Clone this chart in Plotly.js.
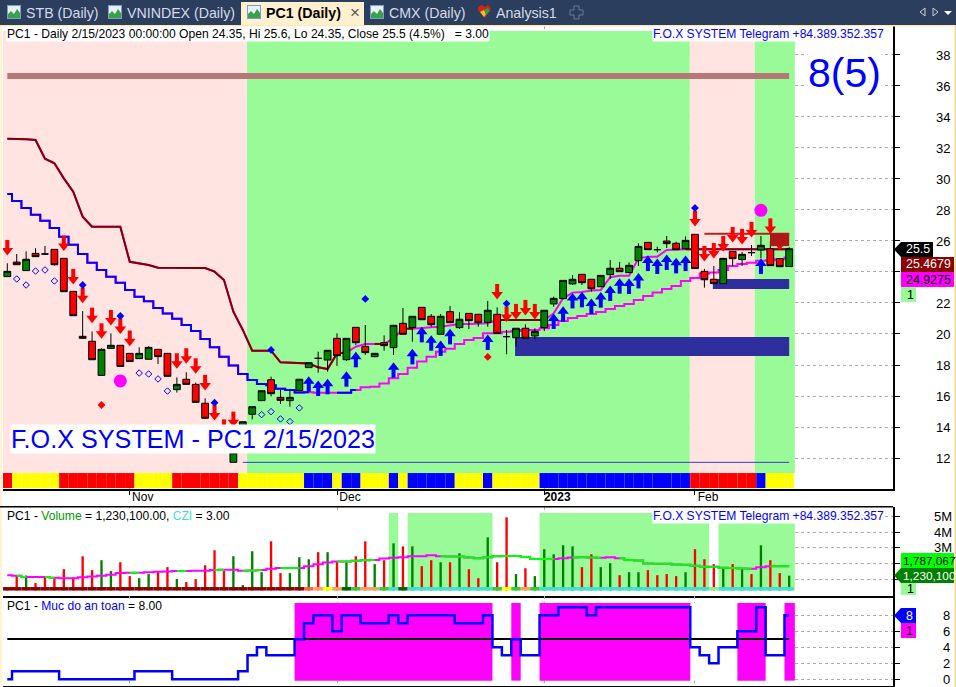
<!DOCTYPE html>
<html><head><meta charset="utf-8">
<script src="https://cdn.plot.ly/plotly-3.0.1.min.js"></script>
<style>html,body{margin:0;padding:0;background:#fff}#c{width:956px;height:687px}</style>
</head><body><div id="c"></div>
<script>
const opens=[23.70,24.64,24.09,25.20,25.16,25.46,24.88,22.75,19.85,19.53,17.33,19.07,19.27,18.75,18.41,18.37,19.01,18.75,16.41,17.08,16.75,15.53,14.0,13.5,11.72,13.4,14.82,15.70,17.05,15.91,15.70,16.34,17.83,18.43,18.32,19.72,18.34,20.43,19.2,18.54,19.44,19.12,20.69,20.41,21.72,21.14,19.98,21.44,20.41,21.33,21.27,20.75,21.27,19.83,19.76,20.37,19.87,20.41,21.94,22.28,23.23,23.85,23.53,23.05,23.83,24.24,23.96,24.73,25.91,25.44,26.0,25.85,25.5,26.43,24.04,23.53,23.25,25.33,24.8,25.25,25.42,25.5,24.86,24.35];
const highs=[24.56,25.16,25.33,25.53,25.68,25.46,24.88,22.75,21.48,20.17,19.07,20.04,19.27,18.75,19.14,19.20,19.01,18.75,17.20,17.53,16.86,15.85,14.0,13.6,13.5,14.34,15.31,16.34,17.25,16.39,16.39,17.08,18.15,18.86,18.95,20.04,19.72,20.43,20.58,18.75,19.91,20.56,21.68,21.14,21.72,21.29,21.29,21.8,21.4,21.33,21.27,22.13,21.72,20.26,20.37,20.62,20.37,21.53,22.41,23.46,23.8,23.85,23.53,23.78,24.77,24.65,24.62,25.85,25.91,25.63,26.32,25.96,26.3,26.43,24.2,24.39,24.88,25.33,25.29,25.74,26.32,26.0,24.86,25.6];
const lows=[23.70,24.47,24.09,24.99,25.10,24.41,22.73,21.18,19.72,18.34,17.33,19.07,17.91,18.22,18.41,18.37,18.06,17.27,16.22,16.75,15.59,14.56,13.0,12.7,11.72,13.4,14.49,15.70,15.98,15.48,15.31,16.34,17.83,17.5,17.57,17.94,18.25,19.29,18.65,18.5,18.92,18.65,19.98,19.5,20.92,20.47,19.98,20.73,20.32,20.32,20.47,20.47,20.04,18.69,19.18,19.72,19.66,20.19,21.76,22.28,23.16,23.16,22.73,23.05,23.55,24.02,23.96,24.39,25.44,25.27,25.55,25.44,25.5,24.22,22.99,23.25,23.25,24.39,24.39,25.03,24.88,24.41,24.34,24.35];
const closes=[24.04,24.47,24.82,24.99,25.16,24.47,22.73,21.18,19.72,18.34,19.01,19.27,17.91,18.22,18.75,19.14,18.54,17.27,16.75,16.75,15.59,14.56,13.0,12.7,12.34,14.34,15.31,16.34,16.15,15.72,15.91,17.08,18.15,18.43,18.95,18.6,19.72,19.44,18.8,18.75,19.25,20.56,19.98,21.14,20.92,20.6,21.14,20.73,20.95,20.86,20.73,21.53,20.04,19.83,20.37,19.72,20.17,21.53,22.3,23.46,23.53,23.31,22.92,23.78,24.24,24.02,24.43,25.65,25.44,25.44,25.83,25.44,26.04,24.22,23.5,23.25,24.88,24.86,25.14,25.25,25.72,24.41,24.34,25.5];
const upperLine=[32.6,32.6,32.56,32.52,31.31,31.01,30.04,29.18,27.57,26.92,26.92,26.92,26.92,24.66,24.56,24.45,24.28,24.28,24.28,24.28,24.28,24.26,24.02,23.48,21.44,20.26,18.92,18.92,18.92,18.17,18.15,18.15,18.1,17.85,17.74,18.75,18.8,19.18,19.36,19.36,19.36,19.72,20.34,20.34,20.4,20.43,20.47,20.58,20.65,20.65,20.65,20.69,20.9,20.9,20.9,20.9,20.9,20.9,21.33,22.3,22.67,22.71,22.8,22.84,23.66,23.76,23.76,24.88,24.99,24.99,25.42,25.46,25.47,25.47,25.47,25.47,25.47,25.47,25.47,25.47,25.47,25.47,25.47,25.47];
const upperMaroonRanges=[[0,34],[35,36],[39,40],[42,43],[52,57],[72,83]];
const lowerLine=[29.03,28.58,28.13,27.7,27.31,26.84,26.28,25.76,25.16,24.6,24.13,23.7,23.31,22.84,22.41,22.11,21.68,21.33,20.99,20.58,20.19,19.68,19.14,18.54,17.96,17.42,17.03,16.77,16.69,16.47,16.39,16.22,16.24,16.21,16.21,16.21,16.21,16.38,16.56,16.6,16.8,17.14,17.42,17.83,18.22,18.54,18.86,19.05,19.36,19.61,19.74,20.04,20.04,20.15,20.2,20.26,20.26,20.37,20.58,20.84,21.03,21.16,21.29,21.42,21.61,21.8,21.93,22.19,22.45,22.67,22.9,23.1,23.42,23.61,23.9,23.96,24.13,24.39,24.52,24.6,24.73,24.75,24.82,24.93];
const lowerBlueRanges=[[0,32],[35,37]];
const sellBars=[0,6,7,8,9,10,11,12,13,18,19,20,21,22,23,24,52,53,54,55,56,73,74,75,76,77,78,79,81,82];
const sellPrices=[25.39,25.67,23.52,22.31,21.02,20.01,20.87,20.33,19.54,18.08,18.4,17.75,16.68,14.74,13.81,14.31,22.55,21.09,21.26,21.52,21.26,27.26,25.0,25.19,25.64,26.22,26.1,26.55,26.78,25.72];
const buyBars=[32,33,34,36,37,41,43,44,45,46,47,51,58,59,60,61,62,63,64,65,66,67,68,69,70,71,72,80];
const buyPrices=[16.95,16.68,16.79,17.28,18.53,17.86,18.72,20.14,19.6,19.26,20.01,19.65,21.0,21.47,22.33,22.4,21.97,22.38,22.81,23.28,23.26,23.62,24.74,24.55,24.81,24.59,24.74,24.55];
const blueDotBars=[8,12,22,28,38,53,73];
const blueDotPrices=[23.16,21.16,15.57,18.97,22.26,21.96,28.13];
const redDotBars=[10,24,51];
const redDotPrices=[15.42,9.81,18.52];
const hollowBars=[1,2,3,4,5,14,15,16,17,27,28,29,30,31];
const hollowPrices=[23.55,23.16,24.06,24.13,23.42,17.48,17.42,17.1,16.32,14.8,14.99,14.52,14.35,15.23];
const pinkBars=[12,80];
const pinkPrices=[16.97,27.98];
const stateRuns=[['#ff0000',1],['#ffff00',5],['#ff0000',8],['#ffff00',4],['#ff0000',7],['#ffff00',7],['#0000ff',3],['#ffff00',1],['#0000ff',2],['#ffff00',3],['#0000ff',1],['#ffff00',1],['#0000ff',5],['#ffff00',3],['#0000ff',1],['#ffff00',5],['#0000ff',16],['#ff0000',7],['#0000ff',1],['#ffff00',3]];
const volumes=[0.36,1.24,1.24,0.76,1.2,1.12,1.64,1.12,2.46,1.58,2.21,1.52,2.08,1.2,1.07,1.33,1.52,1.77,1.01,0.82,1.01,1.89,2.84,1.52,2.46,0.63,2.78,1.45,3.41,1.39,1.39,2.4,2.27,2.72,2.72,2.15,2.08,2.46,3.41,1.96,2.21,3.28,3.09,3.09,1.83,2.21,2.08,2.08,2.65,1.64,1.07,3.66,2.08,4.93,1.33,1.7,1.2,2.91,2.59,3.16,3.09,1.77,2.59,1.77,2.02,1.26,1.45,1.45,1.58,1.26,1.33,1.2,1.45,2.91,2.27,1.96,1.7,1.96,1.7,1.33,3.16,2.21,1.39,1.23];
const volumeUp=[1,0,1,0,0,0,0,0,0,0,1,1,0,0,1,1,0,0,1,0,0,0,0,0,1,1,1,1,0,0,1,1,1,0,1,0,1,0,0,1,0,1,0,1,0,0,1,0,1,0,0,1,0,0,1,0,1,1,1,1,1,0,0,1,1,0,1,1,0,0,0,0,1,0,0,0,1,0,1,0,1,0,0,1];
const volumeAvg=[1.26,1.22,1.14,1.14,1.14,1.09,1.07,1.07,1.12,1.18,1.22,1.28,1.39,1.41,1.41,1.45,1.47,1.49,1.52,1.52,1.54,1.54,1.58,1.6,1.6,1.54,1.56,1.58,1.66,1.71,1.71,1.71,1.83,1.96,2.06,2.13,2.13,2.17,2.21,2.23,2.32,2.36,2.4,2.46,2.46,2.53,2.46,2.44,2.44,2.38,2.34,2.4,2.46,2.48,2.48,2.42,2.29,2.29,2.29,2.34,2.38,2.4,2.38,2.36,2.4,2.34,2.23,2.19,2.0,1.98,1.98,1.94,1.92,1.85,1.79,1.79,1.73,1.71,1.68,1.66,1.77,1.83,1.83,1.83];
const volumeAvgGreenRanges=[[1,2],[4,5],[13,14],[18,19],[22,23],[25,27],[29,31],[35,36],[36,37],[38,39],[46,52],[53,57],[57,58],[60,61],[62,63],[65,70],[71,72],[73,79],[81,83]];
const czlRuns=[['#8b0000',32],['#ff6347',1],['#f4a460',1],['#ffff00',1],['#f4a460',1],['#006400',1],['#32cd32',1],['#f4a460',2],['#32cd32',1],['#40e0d0',1],['#006400',1],['#40e0d0',9],['#32cd32',1],['#ffff00',1],['#32cd32',1],['#f4a460',1],['#32cd32',1],['#40e0d0',18],['#90ee90',1],['#40e0d0',8]];
const safety=[0,1,1,1,1,1,0,0,0,0,0,0,0,0,1,1,1,1,0,0,0,0,0,0,0,1,3,4,3,3,3,5,7,8,8,6,8,8,7,7,7,8,7,8,8,8,8,8,7,7,7,8,4,3,5,3,3,8,8,9,9,9,8,9,9,9,9,9,9,9,9,9,9,4,3,2,4,4,6,6,9,3,3,8];
const safetyLevel=5.04;
const volumeZones=[[40.5,41.5],[42.5,51.5],[56.5,74.5],[75.5,83.6]];
const safetyZones=[[30.5,51.5],[53.5,54.5],[56.5,72.5],[77.5,80.5],[82.5,83.6]];
const regimeZones=[[-0.456,25.45,'#ffe4e1'],[25.45,72.45,'#98fb98'],[72.45,79.35,'#ffe4e1'],[79.35,83.6,'#98fb98']];
const resistanceLevel=36.65, floorLevel=11.72, redLevel=26.47;
const xTickBars=[13,35,57,73];
const xTickText=['Nov','Dec','<b>2023</b>','Feb'];
const bars=closes.map((_,i)=>i);

const F='"Liberation Sans", Arial, sans-serif';
const W=956,H=687;
const px=x=>x/W, py=y=>1-y/H;
const expand=r=>r.flatMap(([c,n])=>Array(n).fill(c));
const pick=(v,rs)=>v.map((y,i)=>rs.some(([a,b])=>i>=a&&i<=b)?y:null);

const traces=[
 {type:'bar',x:bars,y:bars.map(()=>0.97),base:bars.map(()=>10.06),width:1,marker:{color:expand(stateRuns),line:{width:0}},xaxis:'x',yaxis:'y'},
 {type:'scatter',mode:'lines',x:[0,83],y:[resistanceLevel,resistanceLevel],line:{color:'#b57878',width:6},xaxis:'x',yaxis:'y'},
 {type:'scatter',mode:'lines',x:[25,83],y:[floorLevel,floorLevel],line:{color:'#3a3ac8',width:1},xaxis:'x',yaxis:'y'},
 {type:'scatter',mode:'lines',x:[74,83],y:[redLevel,redLevel],line:{color:'#b22222',width:2},xaxis:'x',yaxis:'y'},
 {type:'scatter',mode:'lines',x:bars,y:upperLine,line:{color:'#ff00ff',width:2},xaxis:'x',yaxis:'y'},
 {type:'scatter',mode:'lines',x:bars,y:pick(upperLine,upperMaroonRanges),line:{color:'#800000',width:2},xaxis:'x',yaxis:'y'},
 {type:'scatter',mode:'lines',x:bars,y:lowerLine,line:{color:'#ff00ff',width:2,shape:'hvh'},xaxis:'x',yaxis:'y'},
 {type:'scatter',mode:'lines',x:bars,y:pick(lowerLine,lowerBlueRanges),line:{color:'#0000ff',width:2,shape:'hvh'},xaxis:'x',yaxis:'y'},
 {type:'candlestick',x:bars,open:opens,high:highs,low:lows,close:closes,whiskerwidth:0,
  increasing:{fillcolor:'#008000',line:{color:'#000',width:1}},decreasing:{fillcolor:'#ff0000',line:{color:'#000',width:1}},xaxis:'x',yaxis:'y4'},
 {type:'scatter',mode:'markers',x:buyBars,y:buyPrices,marker:{symbol:'triangle-up',size:10,color:'#0000ff'},
  error_y:{type:'constant',symmetric:false,value:0,valueminus:0.68,thickness:4,width:0,color:'#0000ff'},xaxis:'x',yaxis:'y4'},
 {type:'scatter',mode:'markers',x:sellBars,y:sellPrices,marker:{symbol:'triangle-down',size:10,color:'#ff0000'},
  error_y:{type:'constant',symmetric:false,value:0.68,valueminus:0,thickness:4,width:0,color:'#ff0000'},xaxis:'x',yaxis:'y4'},
 {type:'scatter',mode:'markers',x:hollowBars,y:hollowPrices,marker:{symbol:'diamond-open',size:5,color:'#0000ff',line:{width:1,color:'#0000ff'}},xaxis:'x',yaxis:'y4'},
 {type:'scatter',mode:'markers',x:blueDotBars,y:blueDotPrices,marker:{symbol:'diamond',size:6,color:'#0000ff'},xaxis:'x',yaxis:'y4'},
 {type:'scatter',mode:'markers',x:redDotBars,y:redDotPrices,cliponaxis:false,marker:{symbol:'diamond',size:6,color:'#ff0000'},xaxis:'x',yaxis:'y4'},
 {type:'scatter',mode:'markers',x:pinkBars,y:pinkPrices,marker:{symbol:'circle',size:13,color:'#ff00ff'},xaxis:'x',yaxis:'y4'},
 {type:'bar',x:bars,y:volumes,width:0.25,marker:{color:volumeUp.map(u=>u?'#008000':'#ff0000'),line:{width:0}},xaxis:'x2',yaxis:'y2'},
 {type:'bar',x:bars,y:bars.map(()=>0.235),base:bars.map(()=>0.27),width:1,marker:{color:expand(czlRuns),line:{width:0}},xaxis:'x2',yaxis:'y2'},
 {type:'scatter',mode:'lines',x:bars,y:volumeAvg,line:{color:'#ff00ff',width:2,shape:'hvh'},xaxis:'x2',yaxis:'y2'},
 {type:'scatter',mode:'lines',x:bars,y:pick(volumeAvg,volumeAvgGreenRanges),line:{color:'#00ff00',width:2,shape:'hvh'},xaxis:'x2',yaxis:'y2'},
 {type:'scatter',mode:'lines',x:[0,83],y:[safetyLevel,safetyLevel],line:{color:'#000',width:2},xaxis:'x3',yaxis:'y3'},
 {type:'scatter',mode:'lines',x:bars,y:safety,line:{color:'#0000ff',width:2.5,shape:'hvh'},xaxis:'x3',yaxis:'y3'}
];

const shapes=[];
const rect=(x0,x1,y0,y1,fill,xref,yref,layer)=>shapes.push({type:'rect',xref,yref,x0,x1,y0,y1,fillcolor:fill,line:{width:0},layer:layer||'between'});
const prect=(x0,y0,x1,y1,fill)=>rect(px(x0),px(x1),py(y0),py(y1),fill,'paper','paper','above');
const ppath=(pts,fill,stroke)=>shapes.push({type:'path',xref:'paper',yref:'paper',layer:'above',fillcolor:fill,line:{width:stroke?1:0,color:stroke||'#000'},
  path:'M'+pts.map(p=>px(p[0])+' '+py(p[1])).join(' L')+' Z'});
regimeZones.forEach(z=>rect(z[0],z[1],11.03,39.55,z[2],'x','y'));
rect(53.9,83,18.58,19.81,'#2e2e9e','x','y');
rect(74.9,83,22.9,23.55,'#2e2e9e','x','y');
rect(80.96,83,25.67,26.5,'#b01818','x','y','above');
rect(-0.456,83.6,0.27,5.2,'#ffffff','x2','y2');
volumeZones.forEach(z=>rect(z[0],z[1],0.27,5.2,'#98fb98','x2','y2'));
rect(-0.456,83.6,0,0.27,'#ffffff','x2','y2','above');
rect(-0.456,83.6,-0.17,9.54,'#ffffff','x3','y3');
safetyZones.forEach(z=>rect(z[0],z[1],-0.17,9.54,'#ff00ff','x3','y3'));

/* window chrome */
prect(0,0,956,25,'#2c3e5e');
prect(0,25,956,26.5,'#ffe9b0');
prect(0,26,2,687,'#fff3d0');
prect(954.5,26,956,687,'#f5d98a');
prect(241,2,364,25,'#fff0cf');
prect(0,506,893,507.5,'#000');
const icon=x=>{prect(x,5,x+14,19,'#7d9ecb');prect(x+1,6,x+13,18,'#e8f1fb');
  ppath([[x+1,18],[x+1,14],[x+4,11],[x+7,14],[x+10,9],[x+13,13],[x+13,18]],'#3aa04a');};
[7,108,247,370].forEach(icon);
ppath([[478,7],[482,5],[485,7],[488,5],[491,8],[485,18],[478,10]],'#d62020');
ppath([[480,12],[484,10],[487,13],[484,17]],'#f0c020');
ppath([[484,10],[488,8],[490,11],[486,15]],'#35a035');
ppath([[570,10],[574,10],[574,6],[579,6],[579,10],[583,10],[583,15],[579,15],[579,19],[574,19],[574,15],[570,15]],'rgba(0,0,0,0)','#6d7a90');
ppath([[925,8],[925,16],[920,12]],'rgba(0,0,0,0)','#c8d0dc');
ppath([[933,8],[933,16],[938,12]],'rgba(0,0,0,0)','#c8d0dc');
ppath([[944,11],[952,11],[948,15]],'#ffffff');
/* value tags */
prect(901,242,933,257,'#000');ppath([[894,249.5],[901,242],[901,257]],'#000');
prect(901,257,954,272,'#8b0000');
prect(901,272,954,287,'#ff00ff');
prect(901,287,916,302,'#98fb98');
prect(901,553,954,568,'#00ff00');
prect(901,568,954,583,'#008000');ppath([[894,575.5],[901,568],[901,583]],'#008000');
prect(901,583,916,595,'#98fb98');
prect(901,608,916,623,'#0000ff');ppath([[894,615.5],[901,608],[901,623]],'#0000ff');
prect(901,623,916,638,'#ff00ff');

const ann=[];
const T=(text,x,y,o={})=>ann.push({text,xref:'paper',yref:'paper',x:px(x),y:py(y),xanchor:o.anchor||'left',yanchor:'middle',showarrow:false,
  font:{family:F,size:o.size||12,color:o.color||'#000'},bgcolor:o.bg,borderpad:0});
const tabC='#d5dbe6';
T('STB (Daily)',25,13,{size:14.2,color:tabC});
T('VNINDEX (Daily)',126,13,{size:14.2,color:tabC});
T('<b>PC1 (Daily)</b>',265,13,{size:14.2,color:'#000'});
T('×',349,12,{size:17,color:'#5a5a5a'});
T('CMX (Daily)',388,13,{size:14.2,color:tabC});
T('Analysis1',495,13,{size:14.2,color:tabC});
T('PC1 - Daily 2/15/2023 00:00:00 Open 24.35, Hi 25.6, Lo 24.35, Close 25.5 (4.5%)\u00a0\u00a0\u00a0= 3.00',6,34.5,{bg:'#fff',size:12.1});
T('F.O.X SYSTEM Telegram +84.389.352.357',652,34.5,{bg:'#fff',color:'#0000ff',size:12.1});
T('8(5)',807,73,{bg:'#fff',color:'#0000ff',size:41});
T('F.O.X SYSTEM - PC1 2/15/2023',10,439,{bg:'#fff',color:'#0000ff',size:25.2});
T('PC1 - <span style="color:#009a00">Volume</span> = 1,230,100.00, <span style="color:#40e0d0">CZI</span> = 3.00',6,516,{bg:'#fff',size:12.1});
T('F.O.X SYSTEM Telegram +84.389.352.357',652,516,{bg:'#fff',color:'#0000ff',size:12.1});
T('PC1 - <span style="color:#0000ff">Muc do an toan</span> = 8.00',6,606,{bg:'#fff',size:12.1});
T('25.5',905,249.5,{color:'#fff',size:12.4});
T('25.4679',905,264.5,{color:'#fff',size:12.4});
T('24.9275',905,279.5,{size:12.4});
T('1',906,294.5,{size:12.4});
T('1,787,067',902,560.5,{size:11.8});
T('1,230,100',902,575.5,{color:'#fff',size:11.8});
T('1',906,589,{size:12.4});
T('8',905,615.5,{color:'#fff',size:12.4});
T('1',905,630.5,{size:12.4});

const xbase={range:[-0.456,94.02],fixedrange:true,showline:true,linecolor:'#000',linewidth:1.5,zeroline:false,domain:[px(3),px(893)],
  tickmode:'array',tickvals:xTickBars,showgrid:true,griddash:'dot',gridcolor:'#aaaaaa',gridwidth:1};
const ybase={side:'right',fixedrange:true,showline:true,linecolor:'#000',linewidth:1.5,zeroline:false,ticks:'outside',ticklen:5,tickcolor:'#000',
  griddash:'dot',gridcolor:'#aaaaaa',gridwidth:1,showgrid:true,tickfont:{family:F,size:13,color:'#000'},tickmode:'array'};
const priceTicks=[12,14,16,18,20,22,24,26,28,30,32,34,36,38];
const layout={width:W,height:H,margin:{l:0,r:0,t:0,b:0},paper_bgcolor:'#fff',plot_bgcolor:'#fff',showlegend:false,barmode:'overlay',boxgap:0.28,boxgroupgap:0,
 hovermode:false,font:{family:F},
 xaxis:Object.assign({},xbase,{anchor:'y',ticktext:xTickText,ticks:'outside',ticklen:4,tickcolor:'#000',ticklabelshift:13,ticklabelstandoff:-8,tickfont:{family:F,size:12,color:'#000'},rangeslider:{visible:false}}),
 xaxis2:Object.assign({},xbase,{anchor:'y2',matches:'x',ticks:'',showticklabels:false}),
 xaxis3:Object.assign({},xbase,{anchor:'y3',matches:'x',ticks:'',showticklabels:false}),
 yaxis:Object.assign({},ybase,{anchor:'x',domain:[py(489),py(26)],range:[10,39.87],tickvals:priceTicks,ticktext:priceTicks.map(v=>v===24?'':String(v)),ticklabelstandoff:34}),
 yaxis4:{overlaying:'y',side:'right',anchor:'x',range:[10,39.87],visible:false,fixedrange:true},
 yaxis2:Object.assign({},ybase,{anchor:'x2',domain:[py(596),py(507)],range:[-0.063,5.587],tickvals:[1,2,3,4,5],ticktext:['','','3M','4M','5M'],ticklabelstandoff:32}),
 yaxis3:Object.assign({},ybase,{anchor:'x3',domain:[py(686),py(596)],range:[-0.84,10.41],tickvals:[0,2,4,6,8],ticktext:['0','2','4','6','8'],ticklabelstandoff:41}),
 shapes,annotations:ann};
Plotly.newPlot('c',traces,layout,{displayModeBar:false,staticPlot:true});
</script></body></html>
